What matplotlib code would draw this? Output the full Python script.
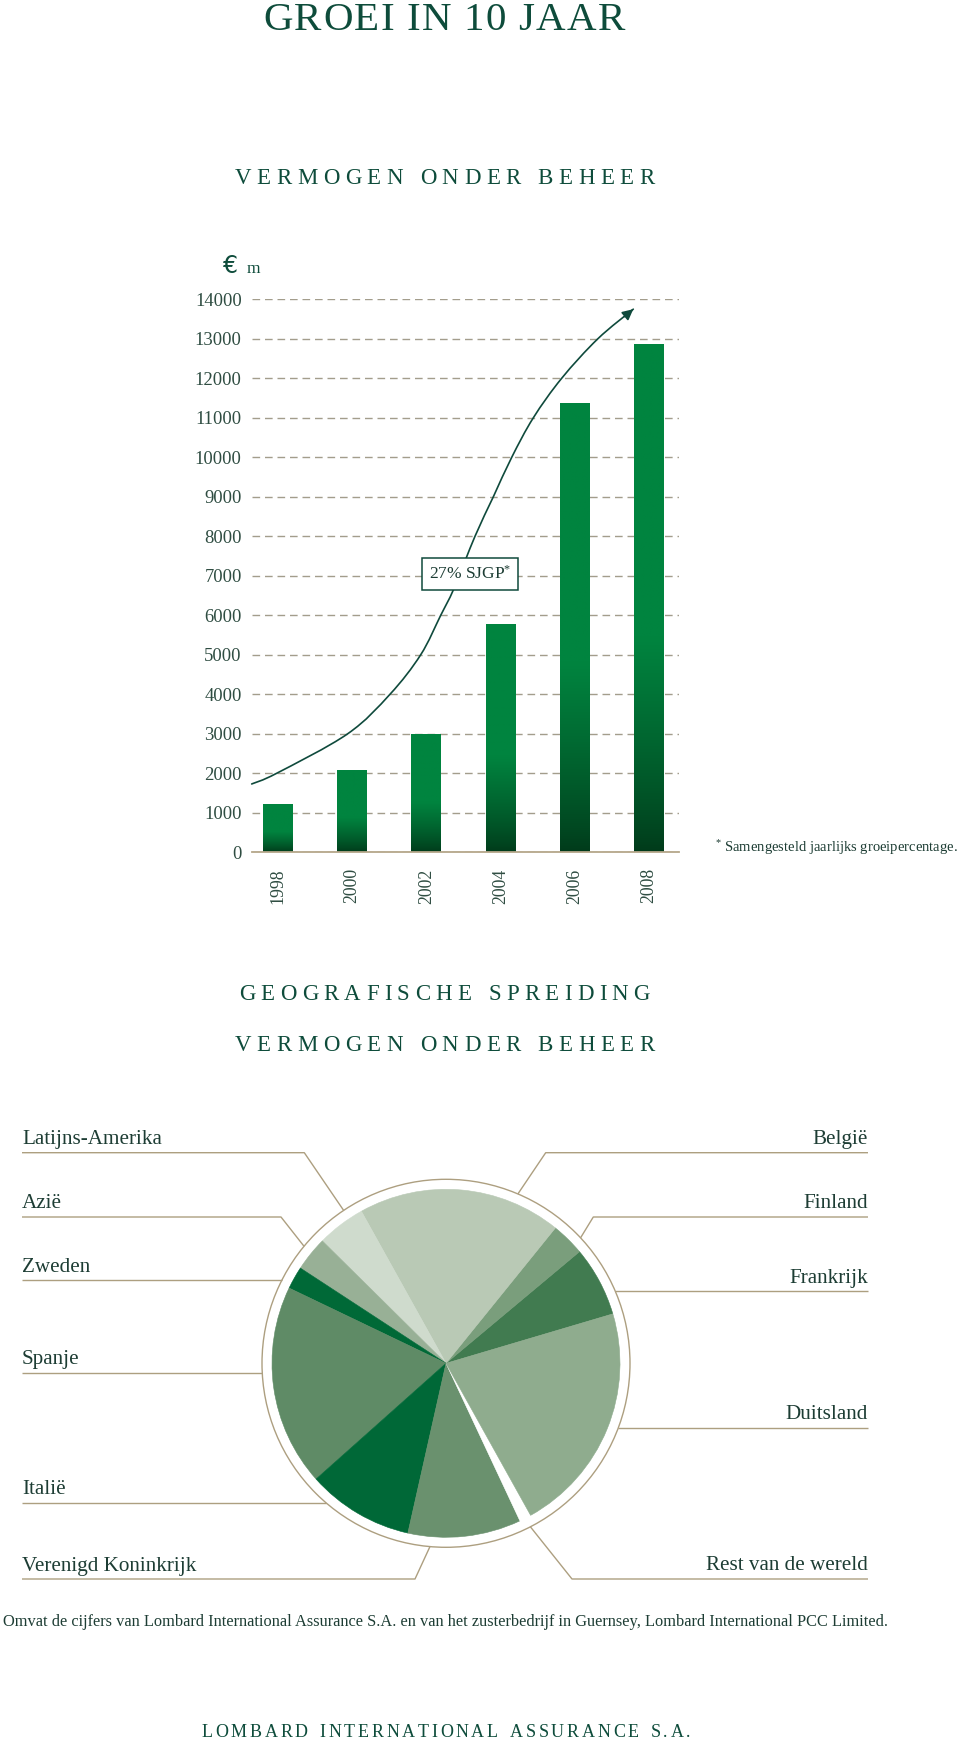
import numpy as np
import matplotlib
matplotlib.use('Agg')
import matplotlib.pyplot as plt
from matplotlib.font_manager import FontProperties
from matplotlib.colors import to_rgb
from matplotlib.path import Path
from matplotlib.patches import PathPatch

# ---------------- data ----------------
years = ['1998', '2000', '2002', '2004', '2006', '2008']
assets = [1220, 2090, 3000, 5790, 11380, 12870]          # EUR m
y_ticks = list(range(0, 14001, 1000))

# decorative growth curve (bar-index units, EUR m)
trend_x = [-0.354, -0.018, 0.939, 1.509, 1.923, 2.193, 2.372,
           2.655, 2.902, 3.150, 3.441, 3.823, 4.310, 4.788]
trend_y = [1730, 2000, 3000, 4000, 5000, 6000, 6680,
           8000, 9000, 10000, 11000, 12000, 13000, 13750]
growth_label = '27% SJGP$^{*}$'

regions = ['Frankrijk', 'Finland', 'België', 'Latijns-Amerika', 'Azië',
           'Zweden', 'Spanje', 'Italië', 'Verenigd Koninkrijk',
           'Rest van de wereld', 'Duitsland']
shares = [6.5, 3.1, 18.9, 4.5, 3.2, 2.1, 18.7, 9.9, 10.5, 1.1, 21.5]
region_colors = ['#417b50', '#7a9e7c', '#b9c9b5', '#cfdbcd', '#98b096',
                 '#006937', '#5f8b66', '#006837', '#6a916e', '#ffffff',
                 '#8fac8e']

# ---------------- style ----------------
W, H = 960, 1743
plt.rcParams['font.family'] = ['Liberation Serif', 'DejaVu Serif']
plt.rcParams['mathtext.fontset'] = 'custom'
plt.rcParams['mathtext.rm'] = 'Liberation Serif'
plt.rcParams['mathtext.it'] = 'Liberation Serif:italic'
plt.rcParams['mathtext.bf'] = 'Liberation Serif:bold'

TITLE_C = '#0e4c3b'
TEXT_C = '#1d3d34'
TICK_C = '#2f4d42'
TAN = '#ad9f80'
GRID_C = '#a39d8c'
CURVE_C = '#0f4a3c'

fig = plt.figure(figsize=(W / 100, H / 100), dpi=100)
fig.patch.set_facecolor('white')

# full-figure axes in pixel coordinates (y downwards)
bg = fig.add_axes([0, 0, 1, 1], zorder=0)
bg.patch.set_alpha(0)

renderer = fig.canvas.get_renderer()


def spaced(text, cx, base, size, tracking, word_gap, color):
    fp = FontProperties(family='Liberation Serif', size=size)
    items = []
    total = 0.0
    for i, ch in enumerate(text):
        if ch == ' ':
            items.append((ch, word_gap))
            total += word_gap
            continue
        w, h, d = renderer.get_text_width_height_descent(ch, fp, ismath=False)
        nxt = text[i + 1] if i + 1 < len(text) else ' '
        gap = tracking if nxt != ' ' else 0
        items.append((ch, w + gap))
        total += w + gap
    x = cx - total / 2
    for ch, adv in items:
        if ch != ' ':
            bg.text(x, base, ch, fontproperties=fp, color=color,
                    ha='left', va='baseline')
        x += adv


spaced('GROEI IN 10 JAAR', 444, 30, 29.5, 1.6, 12, TITLE_C)
spaced('VERMOGEN ONDER BEHEER', 444.5, 184.4, 16.5, 5.5, 17, TITLE_C)
spaced('GEOGRAFISCHE SPREIDING', 444.5, 999.5, 16.5, 5.3, 17, TITLE_C)
spaced('VERMOGEN ONDER BEHEER', 444.5, 1051, 16.5, 5.5, 17, TITLE_C)
spaced('LOMBARD INTERNATIONAL ASSURANCE S.A.', 446, 1737, 13, 2.7, 12, TITLE_C)

bg.text(223, 273, '€', fontsize=17, color=TITLE_C, ha='left', va='baseline',
        family='DejaVu Sans')
bg.text(247, 273, 'm', fontsize=12.5, color=TITLE_C, ha='left', va='baseline')
bg.text(958, 852, r'$^{*}$ Samengesteld jaarlijks groeipercentage.',
        fontsize=10.5, color=TEXT_C, ha='right', va='baseline')
bg.text(3, 1626, 'Omvat de cijfers van Lombard International Assurance S.A. en van het '
        'zusterbedrijf in Guernsey, Lombard International PCC Limited.',
        fontsize=11.8, color=TEXT_C, ha='left', va='baseline')

# ---------------- bar chart ----------------
ax_l, ax_r, ax_b, ax_t = 251.7, 679.0, 852.3, 299.3
ax = fig.add_axes([ax_l / W, 1 - ax_b / H, (ax_r - ax_l) / W, (ax_b - ax_t) / H],
                  zorder=2)
ax.patch.set_alpha(0)
xpos = np.arange(len(years))
bars = ax.bar(xpos, assets, width=0.404, color='none', edgecolor='none', zorder=2)

bright = np.array(to_rgb('#00843f'))
dark = np.array(to_rgb('#003a1a'))
tt = np.linspace(0, 1, 256)
ff = np.clip(tt / 0.42, 0, 1) ** 0.8
grad = (dark + (bright - dark) * ff[:, None])[:, None, :]
for b in bars:
    x0, w, h = b.get_x(), b.get_width(), b.get_height()
    im = ax.imshow(grad, extent=[x0, x0 + w, 0, h], origin='lower',
                   aspect='auto', zorder=2, interpolation='bilinear')
    im.set_clip_path(b)

ax.set_xlim(-0.354, 5.404)
ax.set_ylim(0, 14000)
ax.set_yticks(y_ticks)
ax.set_yticklabels([str(v) for v in y_ticks])
ax.set_xticks(xpos)
ax.set_xticklabels(years, rotation=90)
ax.tick_params(axis='y', length=0, pad=7.2, labelsize=13.4, labelcolor=TICK_C)
ax.tick_params(axis='x', length=0, pad=11.5, labelsize=12.8, labelcolor=TICK_C)
for s in ['top', 'left', 'right']:
    ax.spines[s].set_visible(False)
ax.spines['bottom'].set_color('#b5a78a')
ax.spines['bottom'].set_linewidth(1.3)
ax.set_axisbelow(True)
ax.grid(axis='y', color=GRID_C, linestyle=(0, (5.5, 3.5)), linewidth=1.0)
ax.grid(axis='x', visible=False)

# smooth Catmull-Rom rendering passing through the measured curve points
pts = np.column_stack([trend_x, trend_y]).astype(float)
ext = np.vstack([pts[0], pts, pts[-1]])
verts = [pts[0]]
codes = [Path.MOVETO]
for i in range(1, len(ext) - 2):
    p0, p1, p2, p3 = ext[i - 1], ext[i], ext[i + 1], ext[i + 2]
    c1 = p1 + (p2 - p0) / 6.0
    c2 = p2 - (p3 - p1) / 6.0
    verts += [c1, c2, p2]
    codes += [Path.CURVE4, Path.CURVE4, Path.CURVE4]
ax.add_patch(PathPatch(Path(verts, codes), fill=False, ec=CURVE_C, lw=1.2,
                       zorder=3, clip_on=False, capstyle='round'))
# arrow head along the end tangent of the curve
tip = pts[-1]
back = tip - 0.25 * (pts[-1] - pts[-2])
ax.annotate('', xy=tuple(tip), xytext=tuple(back),
            arrowprops=dict(arrowstyle='-|>', color=CURVE_C, lw=1.2,
                            mutation_scale=16, shrinkA=0, shrinkB=0),
            annotation_clip=False, zorder=3)
ax.text(2.588, 7040, growth_label, ha='center', va='center', fontsize=12.5,
        color=TEXT_C, zorder=5,
        bbox=dict(boxstyle='square,pad=0.4', fc='white', ec=CURVE_C, lw=1.1))

# ---------------- pie chart ----------------
cx, cy, R_pie, R_ring = 446.0, 1363.3, 174.0, 184.0
wedges, _ = bg.pie(shares, colors=region_colors, startangle=-16.5,
                   counterclock=False, center=(cx, cy), radius=R_pie, frame=True,
                   wedgeprops=dict(linewidth=0))
for wdg in wedges:
    wdg.set_edgecolor(wdg.get_facecolor())
    wdg.set_linewidth(0.4)
ring = plt.Circle((cx, cy), R_ring, fill=False, ec=TAN, lw=1.0)
bg.add_patch(ring)

# leader-line layout: name -> (side, line_y, bend_x, anchor_deg)
layout = {
    'Latijns-Amerika': ('L', 1152.7, 304.3, 123.8),
    'Azië': ('L', 1217.0, 281.0, 140.5),
    'Zweden': ('L', 1280.0, None, None),
    'Spanje': ('L', 1372.7, None, None),
    'Italië': ('L', 1502.7, None, None),
    'Verenigd Koninkrijk': ('L', 1579.0, 415.0, 265.0),
    'België': ('R', 1152.7, 545.7, 67.0),
    'Finland': ('R', 1217.0, 593.3, 43.0),
    'Frankrijk': ('R', 1291.0, None, None),
    'Duitsland': ('R', 1427.7, None, None),
    'Rest van de wereld': ('R', 1579.0, 572.0, -62.7),
}
x_left, x_right = 22.0, 868.0
for name in regions:
    side, ly, bx, ang = layout[name]
    if bx is None:
        dx = np.sqrt(R_ring ** 2 - (ly - cy) ** 2)
        ex = cx - dx if side == 'L' else cx + dx
        pts_l = [(ex, ly)]
    else:
        a = np.deg2rad(ang)
        pts_l = [(bx, ly), (cx + R_ring * np.cos(a), cy - R_ring * np.sin(a))]
    xs = [x_left if side == 'L' else x_right] + [p[0] for p in pts_l]
    ys = [ly] + [p[1] for p in pts_l]
    if side == 'L':
        bg.text(x_left, ly - 8.5, name, fontsize=15.2, color=TEXT_C,
                ha='left', va='baseline')
    else:
        bg.text(x_right, ly - 8.5, name, fontsize=15.2, color=TEXT_C,
                ha='right', va='baseline')
    bg.plot(xs, ys, color=TAN, lw=1.0, solid_capstyle='butt')

bg.set_xlim(0, W)
bg.set_ylim(H, 0)
bg.set_aspect('auto')
bg.axis('off')

fig.savefig('out.png', dpi=100, facecolor='white')
